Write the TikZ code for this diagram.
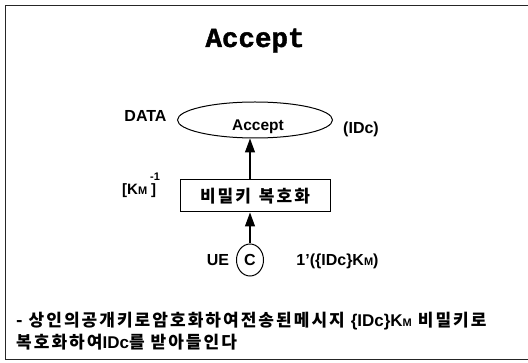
\documentclass[tikz,border=0pt]{standalone}
\usepackage{fontspec}
\setmainfont{Liberation Sans}
\newfontfamily\krfont{Noto Sans CJK KR}[LetterSpace=12]
\newfontfamily\titlefont{Liberation Mono}[FakeBold=1.5]
\usetikzlibrary{arrows.meta,shapes.geometric}

\begin{document}
\begin{tikzpicture}[x=1pt,y=-1pt,
  lbl/.style={font=\bfseries\fontsize{16}{18}\selectfont, inner sep=0pt},
  krtext/.style={font=\krfont\bfseries\fontsize{17}{20}\selectfont, inner sep=0pt},
  shapeline/.style={draw, line width=1pt},
  flow/.style={line width=1.2pt, -{Triangle[length=14pt,width=10pt]}},
  frameline/.style={line width=0.9pt, draw=black!85},
]
\useasboundingbox (0,0) rectangle (528,363);

% page frame (open on the right)
\draw[frameline] (528,5) -- (5,5) -- (5,359) -- (528,359);

% title
\node[font=\titlefont\bfseries\fontsize{27.5}{30}\selectfont, anchor=base, inner sep=0pt]
  (title) at (255,47) {Accept};

% transition "Accept" with its labels
\node[shapeline, ellipse, minimum width=155pt, minimum height=36pt, inner sep=0pt]
  (acc) at (255,120) {};
\node[lbl, anchor=base, font=\bfseries\fontsize{15.5}{18}\selectfont]
  (acclabel) at (258,130.5) {Accept};
\node[lbl, anchor=base] (data) at (145.5,122) {DATA};
\node[lbl, anchor=base] (idc) at (361,134) {(IDc)};

% decryption step with private key
\node[shapeline, krtext, minimum width=150pt, minimum height=32pt]
  (dec) at (255,196) {비밀키\hspace{8pt}복호화};
\node[lbl, anchor=base west, font=\bfseries\fontsize{15}{16}\selectfont]
  (key) at (122,195)
  {[K{\fontsize{11}{12}\selectfont M}\hspace{3pt}\rlap{\raisebox{14pt}{\fontsize{11}{12}\selectfont -1}}\hspace{1pt}]};

% input place
\node[shapeline, ellipse, lbl, minimum width=27pt, minimum height=32pt]
  (place) at (250,260) {C};
\node[lbl, anchor=base] (ue) at (218,266) {UE};
\node[lbl, anchor=base] (marking) at (337.5,266)
  {1'(\{IDc\}K{\fontsize{11}{12}\selectfont M})};

% flow arrows
\draw[flow] (place.north) -- (place.north |- dec.south);
\draw[flow] (dec.north -| place) -- (acc.south -| place);

% explanation
\node[krtext, anchor=base west] (note1) at (16,327)
  {- 상인의공개키로암호화하여전송된메시지 {\rmfamily\{IDc\}K{\fontsize{11}{12}\selectfont M}} 비밀키로};
\node[krtext, anchor=base west] (note2) at (16,349)
  {복호화하여{\rmfamily IDc}를 받아들인다};
\end{tikzpicture}
\end{document}
